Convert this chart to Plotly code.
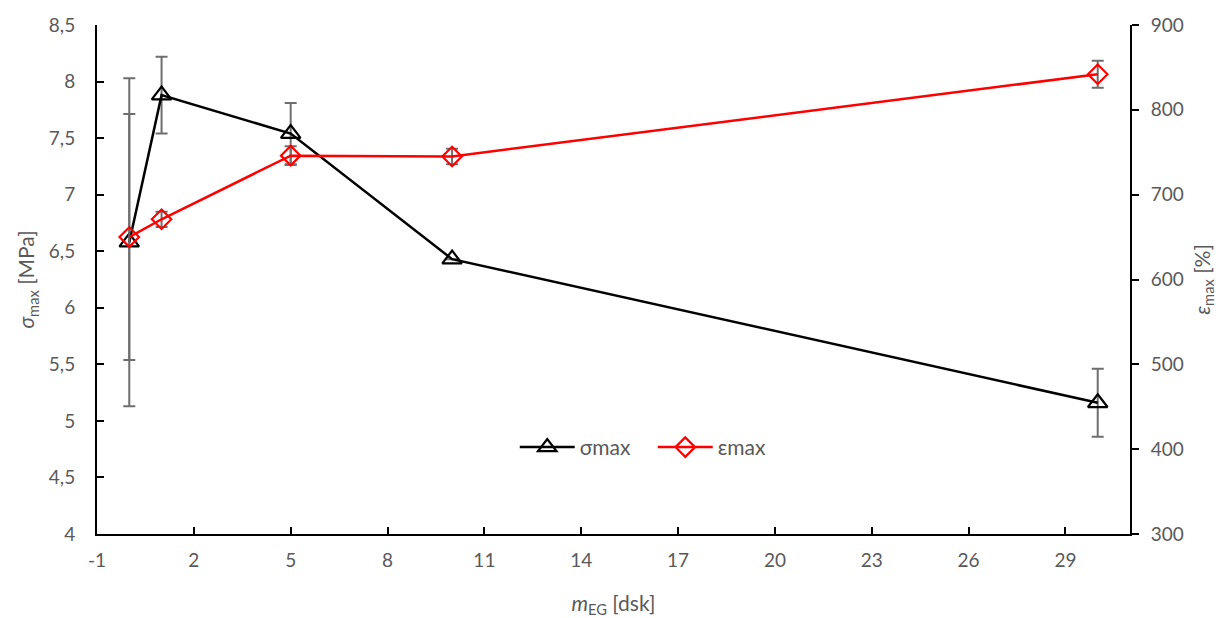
import plotly.graph_objects as go

# EG content [dsk]
m_eg = [0, 1, 5, 10, 30]

# maximum tensile stress [MPa] and its standard deviation
sigma_max = [6.58, 7.88, 7.54, 6.43, 5.16]
sigma_err = [1.45, 0.34, 0.27, 0.0, 0.30]

# elongation at break [%] and its standard deviation
eps_max = [650, 671, 746, 745, 842]
eps_err = [145, 9, 11, 9, 16]

# x-axis ticks (plain hyphen for the negative label)
x_tickvals = [-1, 2, 5, 8, 11, 14, 17, 20, 23, 26, 29]
x_ticktext = ["-1", "2", "5", "8", "11", "14", "17", "20", "23", "26", "29"]

grey = "#595959"
err_col = "#6e6e6e"
font_family = "Lato, Open Sans, Liberation Sans, sans-serif"

fig = go.Figure()

fig.add_trace(go.Scatter(
    x=m_eg, y=sigma_max, name="σmax", mode="lines+markers",
    line=dict(color="black", width=2.5),
    marker=dict(symbol="triangle-up-open", size=17, color="black",
                line=dict(width=2.2, color="black")),
    error_y=dict(type="data", array=sigma_err, visible=True,
                 color=err_col, thickness=2, width=6),
    yaxis="y",
))

fig.add_trace(go.Scatter(
    x=m_eg, y=eps_max, name="εmax", mode="lines+markers",
    line=dict(color="#ff0000", width=2.5),
    marker=dict(symbol="diamond-open", size=15, color="#ff0000",
                line=dict(width=2.2, color="#ff0000")),
    error_y=dict(type="data", array=eps_err, visible=True,
                 color=err_col, thickness=2, width=6),
    yaxis="y2",
))

tick_font = dict(family=font_family, size=19, color=grey)
title_font = dict(family=font_family, size=21, color=grey)

fig.update_layout(
    width=1225, height=618,
    margin=dict(l=97, r=95, t=25, b=84),
    paper_bgcolor="white", plot_bgcolor="white",
    separators=", ",
    showlegend=True,
    legend=dict(orientation="h", x=0.538, y=0.17, xanchor="center", yanchor="middle",
                font=dict(family=font_family, size=21, color=grey),
                bgcolor="rgba(0,0,0,0)", itemwidth=55,
                entrywidth=68, entrywidthmode="pixels"),
    xaxis=dict(
        range=[-1, 31], tickvals=x_tickvals, ticktext=x_ticktext,
        showgrid=False, zeroline=False, automargin=False,
        showline=True, linecolor="black", linewidth=2,
        ticks="inside", ticklen=7, tickwidth=1.5, tickcolor="black",
        tickfont=tick_font, ticklabelstandoff=8,
        title=dict(text="<i>m</i><sub>EG</sub> [dsk]", font=title_font, standoff=28),
    ),
    yaxis=dict(
        range=[4, 8.5], dtick=0.5, showgrid=False, zeroline=False,
        showline=True, linecolor="black", linewidth=2,
        ticks="inside", ticklen=7, tickwidth=1.5, tickcolor="black",
        tickfont=tick_font, ticklabelstandoff=16,
        title=dict(text="<i>σ</i><sub>max</sub> [MPa]", font=title_font, standoff=8),
    ),
    yaxis2=dict(
        range=[300, 900], dtick=100, overlaying="y", side="right",
        showgrid=False, zeroline=False,
        showline=True, linecolor="black", linewidth=2,
        ticks="outside", ticklen=7, tickwidth=1.5, tickcolor="black",
        tickfont=tick_font, ticklabelstandoff=8,
        title=dict(text="<i>ε</i><sub>max</sub> [%]", font=title_font, standoff=12),
    ),
)

fig.write_html("out.html")
